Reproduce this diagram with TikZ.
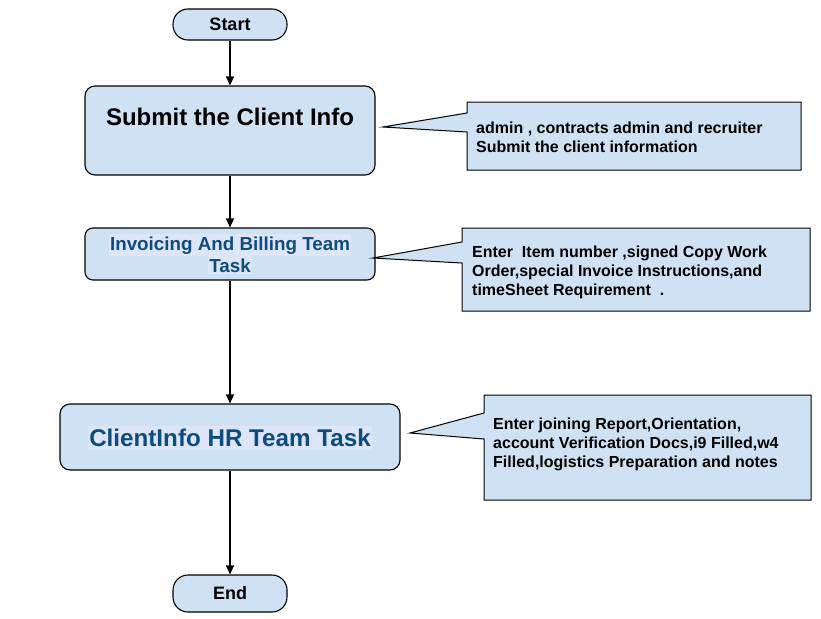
\documentclass[tikz,border=0pt]{standalone}
\usepackage{fontspec}
\setmainfont{Liberation Sans}
\usetikzlibrary{arrows.meta}
\definecolor{boxfill}{HTML}{CFE2F3}
\definecolor{tblue}{HTML}{0F4C7E}
\definecolor{hil}{HTML}{DCE6F8}
\begin{document}
\begin{tikzpicture}[x=1pt,y=-1pt,
  box/.style={draw=black, line width=1.1pt, fill=boxfill, rounded corners=10pt, inner sep=0pt},
  term/.style={box, rounded corners=15pt},
  arr/.style={-{Triangle[length=9pt,width=8pt]}, line width=1.1pt},
  callout/.style={draw=black, line width=1pt, fill=boxfill, line join=miter},
  ctext/.style={font=\bfseries\fontsize{16}{19}\selectfont, anchor=base west, inner sep=0pt, align=left},
  btext/.style={font=\bfseries\fontsize{18.8}{22}\selectfont, text=tblue, fill=hil, inner xsep=1pt, inner ysep=2pt, anchor=base},
]
\useasboundingbox (0,0) rectangle (821,618);

% terminals and process boxes
\node[term, minimum width=114pt, minimum height=31pt, font=\bfseries\fontsize{18}{20}\selectfont] (start) at (230,24.5) {Start};
\node[box, minimum width=290pt, minimum height=89pt] (submit) at (230,130.5) {};
\node[anchor=base, inner sep=0pt, font=\bfseries\fontsize{24}{26}\selectfont] (submittxt) at (230,125) {Submit the Client Info};
\node[box, rounded corners=8pt, minimum width=290pt, minimum height=52pt] (invoice) at (230,254) {};
\node[btext] (invtxt1) at (230,250) {Invoicing And Billing Team};
\node[btext] (invtxt2) at (230,272) {Task};
\node[box, minimum width=340pt, minimum height=66pt] (hr) at (230,437) {};
\node[btext, font=\bfseries\fontsize{24.2}{26}\selectfont, inner ysep=3pt] (hrtxt) at (230,446.5) {ClientInfo HR Team Task};
\node[term, minimum width=114pt, minimum height=37pt, font=\bfseries\fontsize{18}{20}\selectfont] (end) at (230,593.5) {End};

% callouts (anchor base west = baseline of the last line)
\draw[callout] (383,127) -- (467,113) -- (467,102) -- (801,102) -- (801,170) -- (467,170) -- (467,132) -- cycle;
\node[ctext] (c1) at (476,152) {admin , contracts admin and recruiter\\Submit the client information};

\draw[callout] (373,258) -- (462,242) -- (462,228) -- (810,228) -- (810,311) -- (462,311) -- (462,263) -- cycle;
\node[ctext] (c2) at (472,295) {Enter\ \ Item number ,signed Copy Work\\Order,special Invoice Instructions,and\\timeSheet Requirement\ \ .};

\draw[callout] (410,433) -- (484,413) -- (484,395) -- (811,395) -- (811,500) -- (484,500) -- (484,439) -- cycle;
\node[ctext] (c3) at (493,467) {Enter joining Report,Orientation,\\account Verification Docs,i9 Filled,w4\\Filled,logistics Preparation and notes};

% connectors
\draw[arr] (start) -- (submit);
\draw[arr] (submit) -- (invoice);
\draw[arr] (invoice) -- (hr);
\draw[arr] (hr) -- (end);
\end{tikzpicture}
\end{document}
